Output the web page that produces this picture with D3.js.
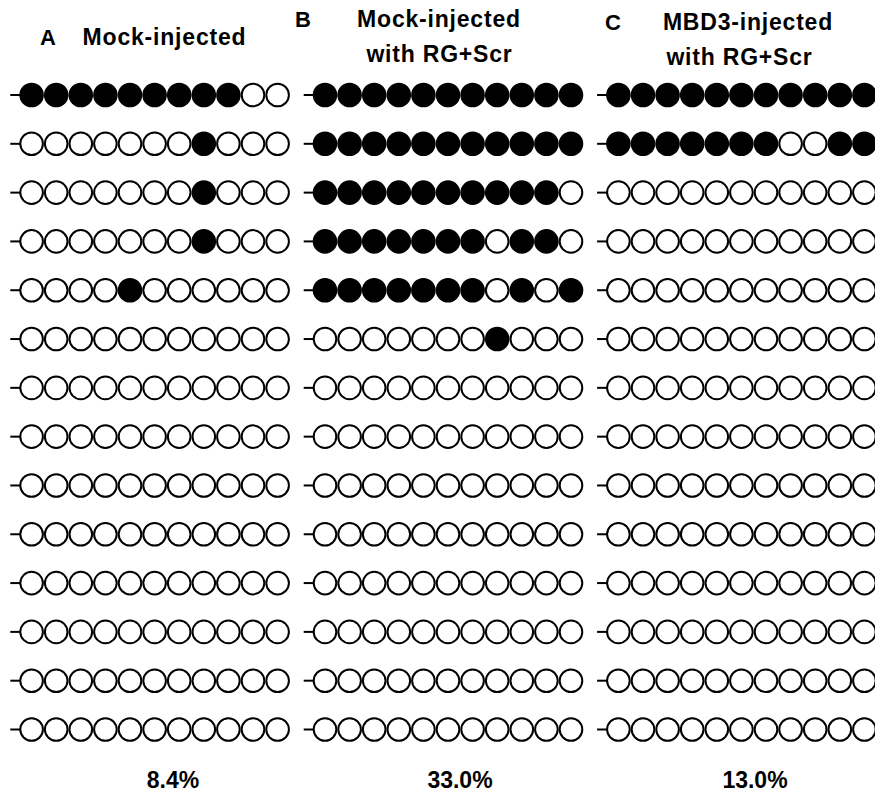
<!DOCTYPE html>
<html>
<head>
<meta charset="utf-8">
<script src="https://cdn.jsdelivr.net/npm/d3@7"></script>
<style>
  body { margin: 0; background: #fff; }
  svg { display: block; }
  text { font-family: "Liberation Sans", Arial, sans-serif; font-weight: bold; fill: #000; }
</style>
</head>
<body>
<svg id="chart"></svg>
<script>
const width = 875
const height = 793

// panel letters, titles and methylation percentages
const panel_letters = ["A", "B", "C"]
const panel_titles = [
    ["Mock-injected"],
    ["Mock-injected", "with RG+Scr"],
    ["MBD3-injected", "with RG+Scr"]
]
const percents = ["8.4%", "33.0%", "13.0%"]

// 1 = methylated CpG (filled), 0 = unmethylated (open); 14 clones x 11 CpG sites
const mock = [
    [1,1,1,1,1,1,1,1,1,0,0],
    [0,0,0,0,0,0,0,1,0,0,0],
    [0,0,0,0,0,0,0,1,0,0,0],
    [0,0,0,0,0,0,0,1,0,0,0],
    [0,0,0,0,1,0,0,0,0,0,0],
    [0,0,0,0,0,0,0,0,0,0,0],
    [0,0,0,0,0,0,0,0,0,0,0],
    [0,0,0,0,0,0,0,0,0,0,0],
    [0,0,0,0,0,0,0,0,0,0,0],
    [0,0,0,0,0,0,0,0,0,0,0],
    [0,0,0,0,0,0,0,0,0,0,0],
    [0,0,0,0,0,0,0,0,0,0,0],
    [0,0,0,0,0,0,0,0,0,0,0],
    [0,0,0,0,0,0,0,0,0,0,0]
]
const mock_rg = [
    [1,1,1,1,1,1,1,1,1,1,1],
    [1,1,1,1,1,1,1,1,1,1,1],
    [1,1,1,1,1,1,1,1,1,1,0],
    [1,1,1,1,1,1,1,0,1,1,0],
    [1,1,1,1,1,1,1,0,1,0,1],
    [0,0,0,0,0,0,0,1,0,0,0],
    [0,0,0,0,0,0,0,0,0,0,0],
    [0,0,0,0,0,0,0,0,0,0,0],
    [0,0,0,0,0,0,0,0,0,0,0],
    [0,0,0,0,0,0,0,0,0,0,0],
    [0,0,0,0,0,0,0,0,0,0,0],
    [0,0,0,0,0,0,0,0,0,0,0],
    [0,0,0,0,0,0,0,0,0,0,0],
    [0,0,0,0,0,0,0,0,0,0,0]
]
const mbd3_rg = [
    [1,1,1,1,1,1,1,1,1,1,1],
    [1,1,1,1,1,1,1,0,0,1,1],
    [0,0,0,0,0,0,0,0,0,0,0],
    [0,0,0,0,0,0,0,0,0,0,0],
    [0,0,0,0,0,0,0,0,0,0,0],
    [0,0,0,0,0,0,0,0,0,0,0],
    [0,0,0,0,0,0,0,0,0,0,0],
    [0,0,0,0,0,0,0,0,0,0,0],
    [0,0,0,0,0,0,0,0,0,0,0],
    [0,0,0,0,0,0,0,0,0,0,0],
    [0,0,0,0,0,0,0,0,0,0,0],
    [0,0,0,0,0,0,0,0,0,0,0],
    [0,0,0,0,0,0,0,0,0,0,0],
    [0,0,0,0,0,0,0,0,0,0,0]
]
const panel_data = [mock, mock_rg, mbd3_rg]

// layout (per panel, relative to panel origin)
const panel_x = [0, 293.4, 586.8]
const letter_pos = [[40, 45], [1.6, 27.3], [18.2, 30]]
const title_pos = [
    [[164.5, 45]],
    [[145.6, 27.3], [146.1, 62]],
    [[161.2, 30], [152.7, 65]]
]
const percent_x = [173, 166.6, 168.2]

const r = 11.3

const svg = d3.select("#chart")
    .attr("width", width)
    .attr("height", height)

const x = d3.scaleLinear().domain([0, 10]).range([31.6, 277.6])
const y = d3.scaleLinear().domain([0, 13]).range([95, 729.5])

panel_data.forEach((rows, p) => {
    let g = svg.append("g").attr("transform", `translate(${panel_x[p]},0)`)

    g.append("text")
        .attr("x", letter_pos[p][0])
        .attr("y", letter_pos[p][1])
        .style("font-size", "22px")
        .text(panel_letters[p])

    g.selectAll("text.title")
        .data(panel_titles[p])
        .enter()
        .append("text")
        .attr("class", "title")
        .attr("x", (d, i) => title_pos[p][i][0])
        .attr("y", (d, i) => title_pos[p][i][1])
        .attr("text-anchor", "middle")
        .style("font-size", "23px")
        .style("letter-spacing", "0.8px")
        .text(d => d)

    let row = g.selectAll("g.clone")
        .data(rows)
        .enter()
        .append("g")
        .attr("class", "clone")
        .attr("transform", (d, i) => `translate(0,${y(i)})`)

    // short strand line leading into each clone
    row.append("line")
        .attr("x1", x(0) - r - 10)
        .attr("x2", x(0) - r)
        .attr("stroke", "#000")
        .attr("stroke-width", 2)

    row.selectAll("circle")
        .data(d => d)
        .enter()
        .append("circle")
        .attr("cx", (d, i) => x(i))
        .attr("cy", 0)
        .attr("r", r)
        .attr("fill", d => d ? "#000" : "#fff")
        .attr("stroke", "#000")
        .attr("stroke-width", 2)

    g.append("text")
        .attr("x", percent_x[p])
        .attr("y", 788)
        .attr("text-anchor", "middle")
        .style("font-size", "23px")
        .text(percents[p])
})
</script>
</body>
</html>
